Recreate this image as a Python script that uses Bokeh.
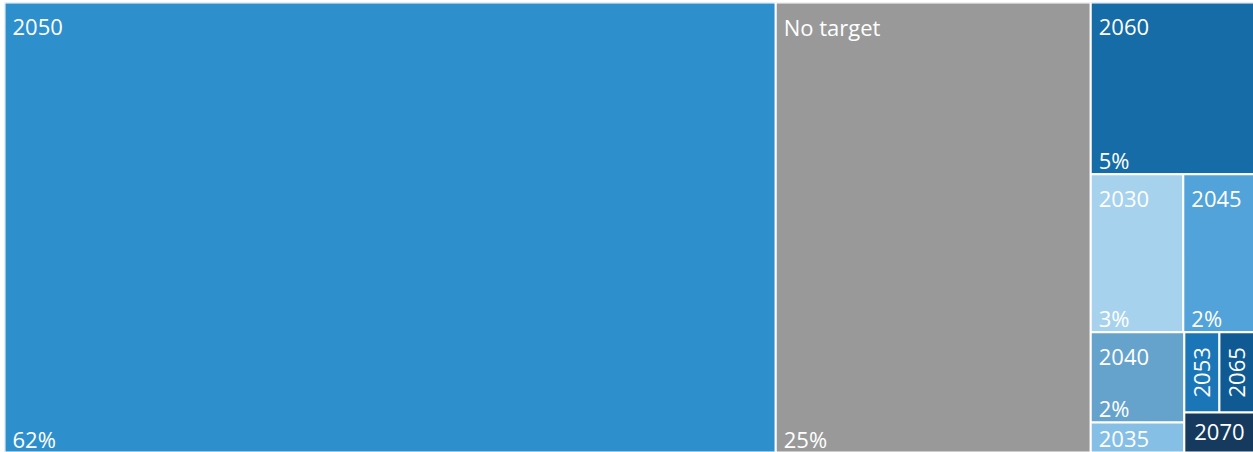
import math
from bokeh.plotting import figure
from bokeh.models import Range1d, ColumnDataSource
from bokeh.core.properties import value
from bokeh.embed import file_html
from bokeh.resources import INLINE

# ---- data ----
categories = ["2050", "No target", "2060", "2030", "2045", "2040", "2035", "2053", "2065", "2070"]
shares = [61.7, 25.2, 5.0, 2.6, 2.0, 1.5, 0.5, 0.5, 0.5, 0.5]
share_labels = ["62%", "25%", "5%", "3%", "2%", "2%", "", "", "", ""]
colors = ["#2e8fcd", "#999999", "#166ca6", "#a6d2ee", "#52a3d9",
          "#65a3cd", "#86bfe6", "#1b76b8", "#0f5a92", "#163a5e"]

W, H = 1250, 450
PHI = (1 + 5 ** 0.5) / 2


def squarify(values, x0, y0, x1, y1, ratio=PHI):
    """Squarified treemap layout (same rules as d3.treemapSquarify)."""
    n = len(values)
    rects = [None] * n
    total = float(sum(values))
    i0 = i1 = 0
    while i0 < n:
        dx, dy = x1 - x0, y1 - y0
        sum_v = values[i1]
        i1 += 1
        min_v = max_v = sum_v
        alpha = max(dy / dx, dx / dy) / (total * ratio)
        beta = sum_v * sum_v * alpha
        min_ratio = max(max_v / beta, beta / min_v)
        while i1 < n:
            v = values[i1]
            s = sum_v + v
            mn, mx = min(min_v, v), max(max_v, v)
            beta = s * s * alpha
            nr = max(mx / beta, beta / mn)
            if nr > min_ratio:
                break
            sum_v, min_v, max_v, min_ratio = s, mn, mx, nr
            i1 += 1
        if dx < dy:
            ny = y0 + dy * sum_v / total if i1 < n else y1
            cx = x0
            for k in range(i0, i1):
                w = dx * values[k] / sum_v
                rects[k] = (cx, y0, cx + w, ny)
                cx += w
            y0 = ny
        else:
            nx = x0 + dx * sum_v / total if i1 < n else x1
            cy = y0
            for k in range(i0, i1):
                h = dy * values[k] / sum_v
                rects[k] = (x0, cy, nx, cy + h)
                cy += h
            x0 = nx
        total -= sum_v
        i0 = i1
    return rects


rects = squarify(shares, 0, 0, W, H)

cells = ColumnDataSource(dict(
    left=[r[0] for r in rects], right=[r[2] for r in rects],
    top=[r[1] for r in rects], bottom=[r[3] for r in rects],
    color=colors, name=categories))

top_lbl = dict(x=[], y=[], text=[])
mid_lbl = dict(x=[], y=[], text=[])
rot_lbl = dict(x=[], y=[], text=[])
pct_lbl = dict(x=[], y=[], text=[])
for (l, t, r, b), cat, pl in zip(rects, categories, share_labels):
    w, h = r - l, b - t
    if w < 45:
        rot_lbl["x"].append((l + r) / 2); rot_lbl["y"].append((t + b) / 2); rot_lbl["text"].append(cat)
        continue
    if h < 45 and w < 75:
        mid_lbl["x"].append((l + r) / 2); mid_lbl["y"].append((t + b) / 2); mid_lbl["text"].append(cat)
        continue
    if h < 45:
        top_lbl["x"].append(l + 8); top_lbl["y"].append(b - 13.5); top_lbl["text"].append(cat)
        continue
    top_lbl["x"].append(l + 8); top_lbl["y"].append(t + 24.5); top_lbl["text"].append(cat)
    if pl and h >= 85:
        pct_lbl["x"].append(l + 8); pct_lbl["y"].append(b - 14); pct_lbl["text"].append(pl)

p = figure(width=1249, height=450, x_range=Range1d(0, 1249), y_range=Range1d(H, 0),
           output_backend="svg", toolbar_location=None, min_border=0,
           x_axis_location=None, y_axis_location=None, margin=(2, 0, 0, 4))
p.grid.visible = False
p.outline_line_color = None
p.background_fill_color = "white"
p.border_fill_color = "white"

p.quad(left="left", right="right", top="top", bottom="bottom", source=cells,
       fill_color="color", line_color="white", line_width=2)

font = value("Open Sans")
common = dict(text_color="white", text_font=font, text_font_size="22px",
              text_baseline="middle")
p.text(x="x", y="y", text="text", source=ColumnDataSource(top_lbl),
       text_align="left", **common)
p.text(x="x", y="y", text="text", source=ColumnDataSource(pct_lbl),
       text_align="left", **common)
p.text(x="x", y="y", text="text", source=ColumnDataSource(mid_lbl),
       text_align="center", **common)
p.text(x="x", y="y", text="text", source=ColumnDataSource(rot_lbl),
       text_align="center", angle=math.pi / 2, **common)

open("out.html", "w").write(file_html(p, INLINE))
